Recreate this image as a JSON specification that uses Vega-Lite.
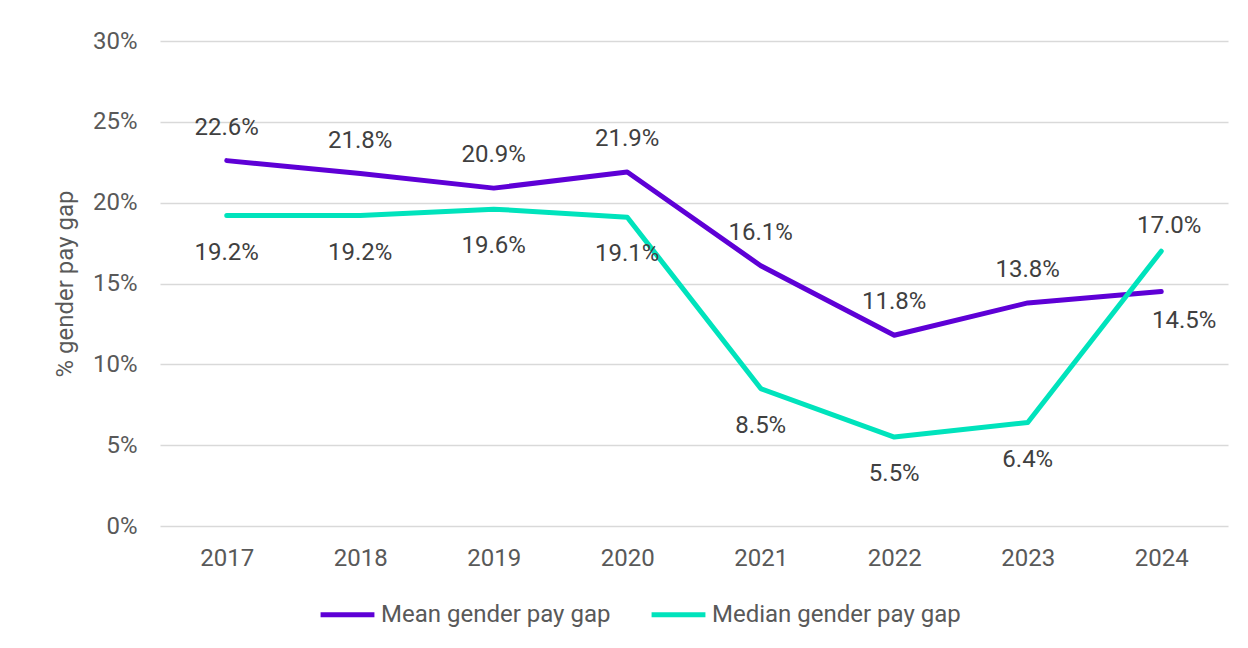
{
  "$schema": "https://vega.github.io/schema/vega-lite/v6.json",
  "width": 1068,
  "height": 485,
  "autosize": {"type": "none"},
  "padding": {"left": 160, "top": 41, "right": 20, "bottom": 122},
  "background": "white",
  "config": {"view": {"stroke": null}, "font": "Roboto"},
  "data": {
    "values": [
      {"year": "2017", "series": "Mean gender pay gap", "value": 0.226},
      {"year": "2018", "series": "Mean gender pay gap", "value": 0.218},
      {"year": "2019", "series": "Mean gender pay gap", "value": 0.209},
      {"year": "2020", "series": "Mean gender pay gap", "value": 0.219},
      {"year": "2021", "series": "Mean gender pay gap", "value": 0.161},
      {"year": "2022", "series": "Mean gender pay gap", "value": 0.118},
      {"year": "2023", "series": "Mean gender pay gap", "value": 0.138},
      {"year": "2024", "series": "Mean gender pay gap", "value": 0.145},
      {"year": "2017", "series": "Median gender pay gap", "value": 0.192},
      {"year": "2018", "series": "Median gender pay gap", "value": 0.192},
      {"year": "2019", "series": "Median gender pay gap", "value": 0.196},
      {"year": "2020", "series": "Median gender pay gap", "value": 0.191},
      {"year": "2021", "series": "Median gender pay gap", "value": 0.085},
      {"year": "2022", "series": "Median gender pay gap", "value": 0.055},
      {"year": "2023", "series": "Median gender pay gap", "value": 0.064},
      {"year": "2024", "series": "Median gender pay gap", "value": 0.170}
    ]
  },
  "encoding": {
    "x": {
      "field": "year",
      "type": "ordinal",
      "axis": {
        "title": null,
        "domain": false,
        "ticks": false,
        "labelAngle": 0,
        "labelFontSize": 24,
        "labelColor": "#595959",
        "labelPadding": 20
      }
    },
    "y": {
      "field": "value",
      "type": "quantitative",
      "scale": {"domain": [0, 0.3]},
      "axis": {
        "values": [0, 0.05, 0.1, 0.15, 0.2, 0.25, 0.3],
        "format": ".0%",
        "title": "% gender pay gap",
        "titleFontSize": 24,
        "titleFontWeight": "normal",
        "titleColor": "#595959",
        "titlePadding": 15,
        "domain": false,
        "ticks": false,
        "labelFontSize": 24,
        "labelColor": "#595959",
        "labelPadding": 23,
        "gridColor": "#d9d9d9",
        "gridWidth": 1.5
      }
    }
  },
  "layer": [
    {
      "mark": {"type": "line", "strokeWidth": 5, "strokeCap": "round", "strokeJoin": "round"},
      "encoding": {
        "color": {
          "field": "series",
          "type": "nominal",
          "scale": {"domain": ["Mean gender pay gap", "Median gender pay gap"], "range": ["#5E00D6", "#00E3BC"]},
          "legend": {
            "title": null,
            "orient": "none",
            "legendX": 158,
            "legendY": 544,
            "direction": "horizontal",
            "symbolType": "stroke",
            "symbolSize": 2900,
            "symbolStrokeWidth": 5,
            "labelFontSize": 24,
            "labelColor": "#595959",
            "labelOffset": 4,
            "columnPadding": 30,
            "labelLimit": 400
          }
        }
      }
    },
    {
      "transform": [{"filter": "datum.series == 'Mean gender pay gap' && datum.year != '2024'"}],
      "mark": {"type": "text", "dy": -33, "fontSize": 24, "color": "#404040"},
      "encoding": {"text": {"field": "value", "type": "quantitative", "format": ".1%"}}
    },
    {
      "transform": [{"filter": "datum.series == 'Median gender pay gap' && datum.year != '2024'"}],
      "mark": {"type": "text", "dy": 37, "fontSize": 24, "color": "#404040"},
      "encoding": {"text": {"field": "value", "type": "quantitative", "format": ".1%"}}
    },
    {
      "transform": [{"filter": "datum.series == 'Mean gender pay gap' && datum.year == '2024'"}],
      "mark": {"type": "text", "dy": 29, "dx": 23, "fontSize": 24, "color": "#404040"},
      "encoding": {"text": {"field": "value", "type": "quantitative", "format": ".1%"}}
    },
    {
      "transform": [{"filter": "datum.series == 'Median gender pay gap' && datum.year == '2024'"}],
      "mark": {"type": "text", "dy": -25, "dx": 8, "fontSize": 24, "color": "#404040"},
      "encoding": {"text": {"field": "value", "type": "quantitative", "format": ".1%"}}
    }
  ]
}
